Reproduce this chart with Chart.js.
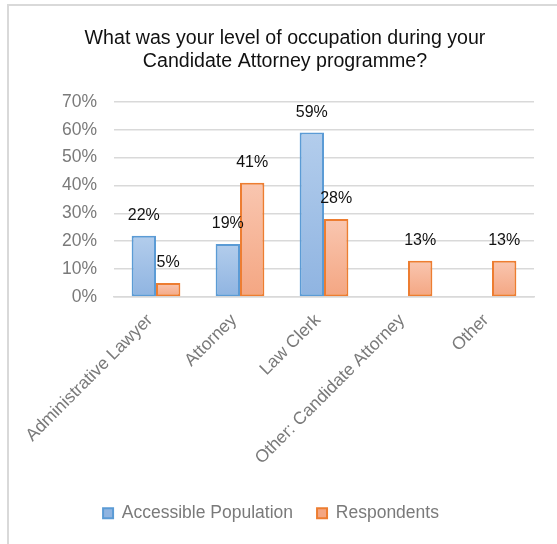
<!DOCTYPE html>
<html>
<head>
<meta charset="utf-8">
<script src="https://cdn.jsdelivr.net/npm/chart.js@4/dist/chart.umd.min.js"></script>
<style>
  html, body { margin: 0; padding: 0; background: #fff; overflow: hidden; }
  #frame { position: absolute; left: 7px; top: 4px; width: 620px; height: 600px; border: 2px solid #d9d9d9; }
  #wrap { position: absolute; left: 0; top: 0; width: 557px; height: 544px; }
</style>
</head>
<body>
<div id="frame"></div>
<div id="wrap"><canvas id="chart" width="557" height="544"></canvas></div>
<script>
// occupation during the Candidate Attorney programme (percent)
const categories = ["Administrative Lawyer", "Attorney", "Law Clerk", "Other: Candidate Attorney", "Other"];
const accessiblePopulation = [22, 19, 59, null, null];
const respondents = [5, 41, 28, 13, 13];
const yTicks = [0, 10, 20, 30, 40, 50, 60, 70];

const FONT = "'Liberation Sans', Arial, sans-serif";
const GREY = "#7a7a7a";

// per-bar vertical gradient, light at the top
function barFill(light, dark, flat){
  return ctx => {
    if(ctx.type !== "data" || ctx.raw == null) return flat;
    const chart = ctx.chart;
    if(!chart.chartArea) return flat;
    const y = chart.scales.y;
    const top = y.getPixelForValue(ctx.raw), base = y.getPixelForValue(0);
    if(!(base > top)) return flat;
    const g = chart.ctx.createLinearGradient(0, top, 0, base);
    g.addColorStop(0, light);
    g.addColorStop(1, dark);
    return g;
  };
}

// value labels above each bar
const valueLabels = {
  id: "valueLabels",
  afterDatasetsDraw(chart){
    const c = chart.ctx;
    c.save();
    c.font = "16px " + FONT;
    c.fillStyle = "#111";
    c.textAlign = "center";
    c.textBaseline = "middle";
    chart.data.datasets.forEach((ds, di) => {
      chart.getDatasetMeta(di).data.forEach((el, i) => {
        const v = ds.data[i];
        if(v == null) return;
        c.fillText(v + "%", el.x, el.y - 20);
      });
    });
    c.restore();
  }
};

// legend sits a little left of the title's centre
const legendNudge = {
  id: "legendNudge",
  afterLayout(chart){
    if(chart.legend){ chart.legend.left -= 14; chart.legend.right -= 14; }
  }
};

new Chart(document.getElementById("chart"), {
  type: "bar",
  data: {
    labels: categories,
    datasets: [
      {
        label: "Accessible Population",
        data: accessiblePopulation,
        backgroundColor: barFill("#b3cdec", "#8fb4e1", "#a6c4e8"),
        borderColor: "#5b9bd5",
        borderWidth: 2,
        borderSkipped: false
      },
      {
        label: "Respondents",
        data: respondents,
        backgroundColor: barFill("#f9c6b0", "#f4a682", "#f6b89b"),
        borderColor: "#ed7d31",
        borderWidth: 2,
        borderSkipped: false
      }
    ]
  },
  options: {
    responsive: false,
    animation: false,
    devicePixelRatio: 1,
    layout: { padding: { top: 27, left: 36, right: 23, bottom: 12 } },
    datasets: { bar: { categoryPercentage: 0.58, barPercentage: 1 } },
    plugins: {
      title: {
        display: true,
        text: ["What was your level of occupation during your", "Candidate Attorney programme?"],
        color: "#111",
        font: { family: FONT, size: 19.6, weight: "normal", lineHeight: 1.17 },
        padding: { top: 0, bottom: 29 }
      },
      legend: {
        position: "bottom",
        labels: {
          color: GREY,
          font: { family: FONT, size: 17.5 },
          boxWidth: 10,
          boxHeight: 10,
          padding: 24
        }
      },
      tooltip: { enabled: false }
    },
    scales: {
      x: {
        grid: { display: false },
        border: { color: "#d9d9d9", width: 1.5 },
        ticks: {
          color: GREY,
          font: { family: FONT, size: 17.5 },
          minRotation: 45,
          maxRotation: 45,
          labelOffset: -6,
          padding: 5
        },
        afterFit(scale){ scale.height = 183.5; }
      },
      y: {
        min: 0,
        max: 70,
        afterBuildTicks(scale){ scale.ticks = yTicks.map(v => ({ value: v })); },
        grid: { color: "#d9d9d9", lineWidth: 1.5, drawTicks: false },
        border: { display: false },
        ticks: {
          color: GREY,
          font: { family: FONT, size: 17.5 },
          padding: 17,
          callback: v => v + "%"
        },
        afterFit(scale){ scale.width = 78; }
      }
    }
  },
  plugins: [valueLabels, legendNudge]
});
</script>
</body>
</html>
